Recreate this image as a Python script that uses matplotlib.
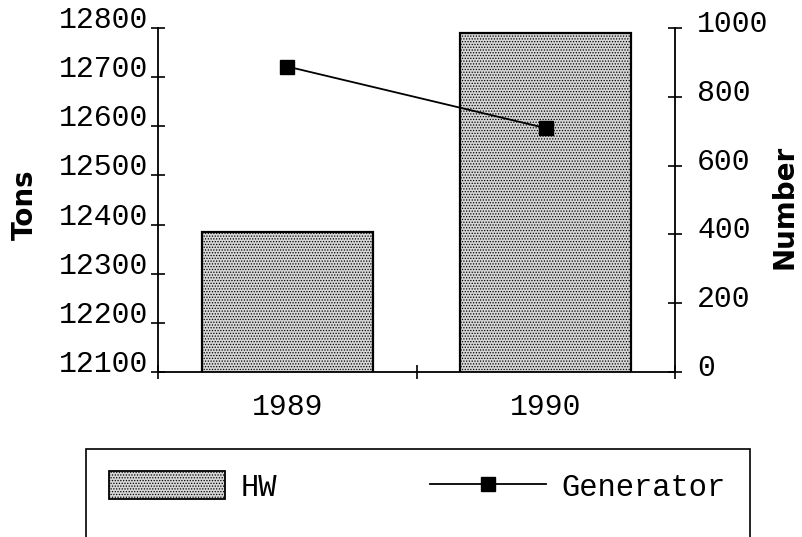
import matplotlib
matplotlib.use("Agg")
import matplotlib.pyplot as plt
import matplotlib.transforms as mtransforms
from matplotlib.patches import Rectangle, Patch
from matplotlib.lines import Line2D

years = ["1989", "1990"]
hw_tons = [12384, 12789]
generators = [888, 709]

tons_ticks = [12100, 12200, 12300, 12400, 12500, 12600, 12700, 12800]
number_ticks = [0, 200, 400, 600, 800, 1000]

tick_font = dict(family="Liberation Mono", size=21.5)
label_font = dict(family="DejaVu Sans", size=20, weight="bold")

plt.rcParams["hatch.linewidth"] = 0.6
plt.rcParams["hatch.color"] = "#333333"

fig = plt.figure(figsize=(8.02, 5.37), dpi=100)
ax = fig.add_axes([158 / 802, 1 - 372 / 537, (675 - 158) / 802, (372 - 28) / 537])
ax2 = ax.twinx()

x = range(len(years))
ax.bar(x, hw_tons, width=0.66, color="#d6d6d6", edgecolor="black",
       linewidth=1.6, hatch="......", zorder=2)
ax2.plot(x, generators, color="black", linewidth=1.3, marker="s",
         markersize=9.5, zorder=3)

ax.set_xlim(-0.5, 1.5)
ax.set_ylim(12100, 12800)
ax2.set_ylim(0, 1000)

# spines
for s in ["top", "right"]:
    ax.spines[s].set_visible(False)
for s in ["top", "left", "bottom"]:
    ax2.spines[s].set_visible(False)
for sp in [ax.spines["left"], ax.spines["bottom"], ax2.spines["right"]]:
    sp.set_linewidth(1.3)

# x axis: crossing ticks between categories, labels at category centres
ax.set_xticks([-0.5, 0.5, 1.5])
ax.set_xticklabels([])
ax.set_xticks(list(x), minor=True)
ax.set_xticklabels(years, minor=True, **tick_font)
ax.tick_params(axis="x", which="major", direction="inout", length=10, width=1.2)
ax.tick_params(axis="x", which="minor", length=0, pad=15)

ax.set_yticks(tons_ticks)
ax.set_yticklabels([str(t) for t in tons_ticks], **tick_font)
ax.tick_params(axis="y", direction="inout", length=10, width=1.2, pad=2)
for lab in ax.get_yticklabels():
    lab.set_va("baseline")

ax2.set_yticks(number_ticks)
ax2.set_yticklabels([str(t) for t in number_ticks], **tick_font)
ax2.tick_params(axis="y", direction="inout", length=10, width=1.2, pad=11)
for lab in ax2.get_yticklabels():
    lab.set_va("baseline")
    lab.set_transform(lab.get_transform() +
                      mtransforms.ScaledTranslation(0, -4 / 100, fig.dpi_scale_trans))

ax.set_ylabel("Tons", **label_font)
ax.yaxis.label.set_va("center")
ax.yaxis.set_label_coords(-0.257, 0.485)
ax2.set_ylabel("Number", **label_font)
ax2.yaxis.label.set_va("center")
ax2.yaxis.set_label_coords(1.211, 0.48)

# legend, frame runs off the bottom of the picture
fig.add_artist(Rectangle((86 / 802, -0.05), (750 - 86) / 802, (537 - 449) / 537 + 0.05,
                         transform=fig.transFigure, fill=False, edgecolor="black",
                         linewidth=1.2))
handles = [Patch(facecolor="#d6d6d6", edgecolor="black", hatch="......", linewidth=1.3),
           Line2D([], [], color="black", linewidth=1.3, marker="s", markersize=9.5)]
fig.legend(handles, ["HW", "Generator"], loc="center left",
           bbox_to_anchor=(109 / 802, 1 - 487 / 537), ncol=2, frameon=False,
           borderpad=0, borderaxespad=0, handlelength=3.8, handleheight=1.0,
           handletextpad=0.5, columnspacing=5.0,
           prop=dict(family="Liberation Mono", size=22))

fig.savefig("out.png", dpi=100)
